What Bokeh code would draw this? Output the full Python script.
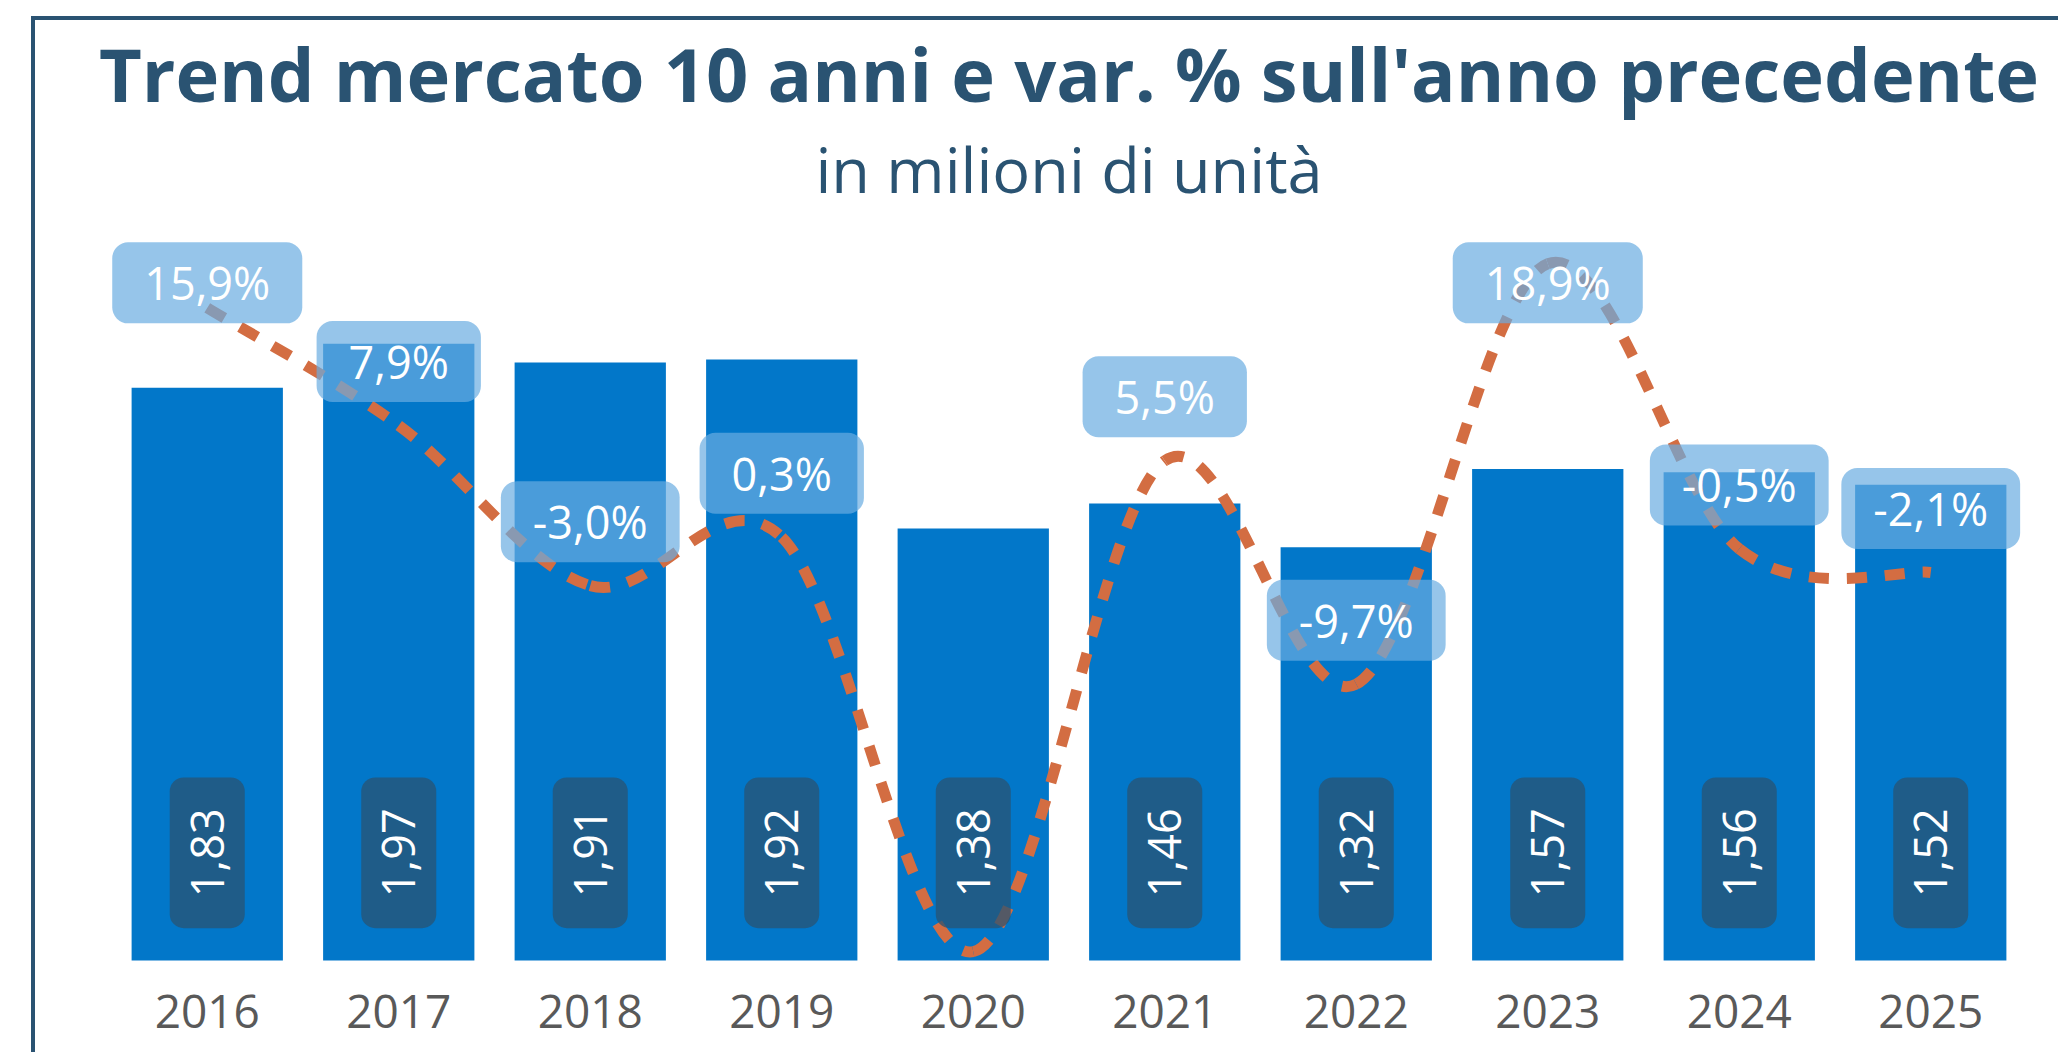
import numpy as np
from bokeh.plotting import figure
from bokeh.models import Range1d, FactorRange, Title
from bokeh.embed import file_html
from bokeh.resources import INLINE
from bokeh.core.properties import value

# ---- data -------------------------------------------------------------
years = ["2016", "2017", "2018", "2019", "2020", "2021", "2022", "2023", "2024", "2025"]
units_mln = [1.83, 1.97, 1.91, 1.92, 1.38, 1.46, 1.32, 1.57, 1.56, 1.52]
var_pct = [15.9, 7.9, -3.0, 0.3, -27.9, 5.5, -9.7, 18.9, -0.5, -2.1]
pct_label_shown = [True, True, True, True, False, True, True, True, True, True]

title_text = "Trend mercato 10 anni e var. % sull'anno precedente"
subtitle_text = "in milioni di unità"

# ---- styles -----------------------------------------------------------
NAVY = "#2a5372"
BAR = "#0277c9"
ORANGE = "#d36d42"
GREY = "#595959"
FONT = "Open Sans"

p = figure(
    x_range=FactorRange(*years, range_padding=0),
    y_range=Range1d(-0.032, 2.316),
    width=2027, height=1036,
    output_backend="svg", toolbar_location=None,
    y_axis_location=None, title=None,
    min_border_left=76, min_border_right=36,
    min_border_top=0, min_border_bottom=86,
)
p.extra_y_ranges = {"pct": Range1d(-29.18, 20.82)}
p.styles = {"border-left": f"4px solid {NAVY}", "border-top": f"4px solid {NAVY}"}
p.margin = (16, 0, 0, 31)

# header panels, stacked upward from the plot area:
# a blank spacer, the subtitle, then the main title
p.add_layout(Title(text=" ", text_font=FONT, text_font_size="12px",
                   text_color="white", standoff=6), "above")
p.add_layout(Title(text=subtitle_text, align="center", text_font=FONT,
                   text_font_size="63px", text_font_style="normal",
                   text_color=NAVY, standoff=0), "above")
p.add_layout(Title(text=title_text, align="center", text_font=FONT,
                   text_font_size="74px", text_font_style="bold",
                   text_color=NAVY, standoff=0), "above")

p.outline_line_color = None
p.xgrid.visible = False
p.ygrid.visible = False
p.background_fill_color = "white"
p.border_fill_color = "white"

ax = p.xaxis[0]
ax.axis_line_color = None
ax.major_tick_line_color = None
ax.minor_tick_line_color = None
ax.major_label_text_font = FONT
ax.major_label_text_font_size = "46px"
ax.major_label_text_color = GREY
ax.major_label_standoff = 18

# bars
p.vbar(x=years, top=units_mln, width=0.79, fill_color=BAR, line_color=None)

# smoothed dashed line (Catmull-Rom -> cubic Bezier through the data points)
xs = np.arange(len(years)) + 0.5
ys = np.array(var_pct, dtype=float)
xp = np.concatenate([[xs[0]], xs, [xs[-1]]])
yp = np.concatenate([[ys[0]], ys, [ys[-1]]])
n = len(xs) - 1
x0, y0, x1, y1 = xs[:-1], ys[:-1], xs[1:], ys[1:]
cx0 = x0 + (xp[2:2 + n] - xp[0:n]) / 6.0
cy0 = y0 + (yp[2:2 + n] - yp[0:n]) / 6.0
cx1 = x1 - (xp[3:3 + n] - xp[1:1 + n]) / 6.0
cy1 = y1 - (yp[3:3 + n] - yp[1:1 + n]) / 6.0
p.bezier(x0=x0, y0=y0, x1=x1, y1=y1, cx0=cx0, cy0=cy0, cx1=cx1, cy1=cy1,
         line_color=ORANGE, line_width=11, line_dash="20 18", line_cap="butt",
         y_range_name="pct")

# value labels (rotated, dark boxes)
unit_txt = [f"{v:.2f}".replace(".", ",") for v in units_mln]
p.text(x=years, y=0.344, text=unit_txt, angle=np.pi / 2,
       text_align="center", text_baseline="middle",
       text_font=value(FONT), text_font_size="45px", text_color="white",
       background_fill_color=NAVY, background_fill_alpha=0.75,
       padding=(31, 21), border_radius=14)

# percentage labels
sx = [y for y, s in zip(years, pct_label_shown) if s]
sv = [v for v, s in zip(var_pct, pct_label_shown) if s]
sy = np.minimum(np.array(sv) + 4.35, 17.6)
pct_txt = [f"{v:.1f}".replace(".", ",") + "%" for v in sv]
p.text(x=sx, y=sy, text=pct_txt, y_range_name="pct",
       text_align="center", text_baseline="middle",
       text_font=value(FONT), text_font_size="45px", text_color="white",
       background_fill_color=(106, 172, 225), background_fill_alpha=0.7,
       padding=(32, 10), border_radius=16)

open("out.html", "w").write(file_html(p, INLINE))
